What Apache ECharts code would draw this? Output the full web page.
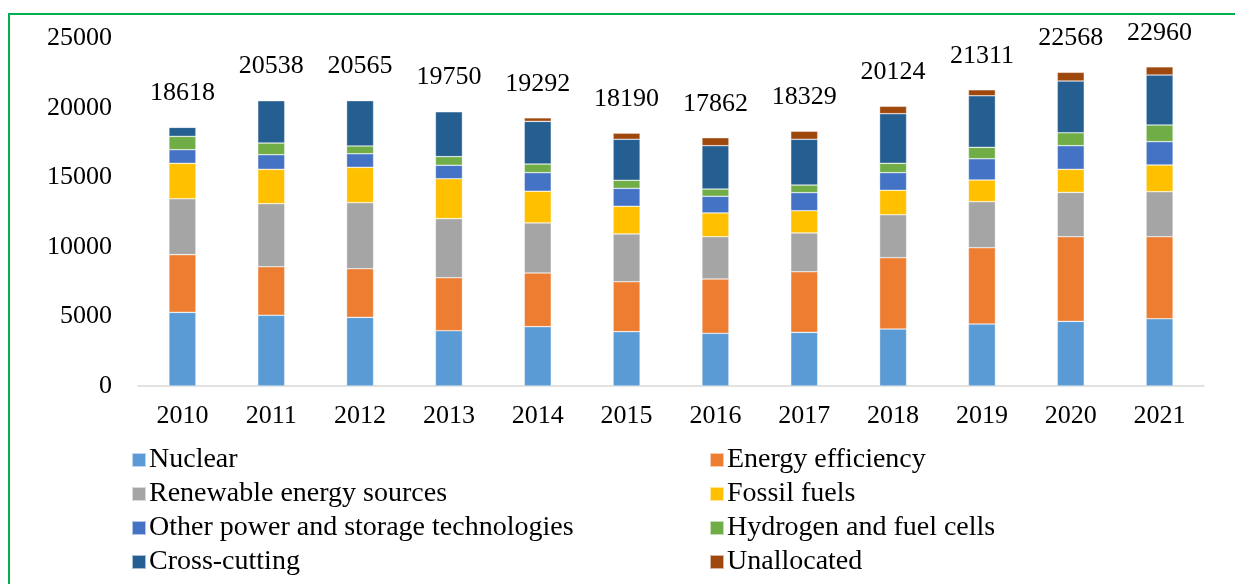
<!DOCTYPE html>
<html>
<head>
<meta charset="utf-8">
<style>
  html, body { margin: 0; padding: 0; background: #fff; }
  #chart { width: 1235px; height: 584px; }
</style>
<script src="https://cdn.jsdelivr.net/npm/echarts@6/dist/echarts.min.js"></script>
</head>
<body>
<div id="chart"></div>
<script>
const years = ['2010', '2011', '2012', '2013', '2014', '2015', '2016', '2017', '2018', '2019', '2020', '2021']

const nuclear = [5300, 5090, 4940, 3980, 4270, 3910, 3790, 3860, 4100, 4460, 4650, 4840]
const efficiency = [4150, 3490, 3500, 3810, 3860, 3590, 3910, 4360, 5130, 5490, 6090, 5900]
const renewables = [4020, 4540, 4750, 4250, 3600, 3440, 3040, 2790, 3090, 3310, 3190, 3240]
const fossil = [2550, 2470, 2540, 2870, 2280, 1990, 1710, 1600, 1760, 1560, 1660, 1920]
const otherPower = [980, 1050, 980, 970, 1340, 1290, 1200, 1300, 1270, 1530, 1700, 1680]
const hydrogen = [960, 840, 560, 620, 620, 580, 520, 550, 670, 820, 930, 1200]
const crossCutting = [650, 3050, 3260, 3230, 3070, 2950, 3120, 3290, 3570, 3710, 3720, 3590]
const unallocated = [8, 8, 35, 20, 252, 440, 572, 579, 534, 431, 628, 590]

const totals = [18618, 20538, 20565, 19750, 19292, 18190, 17862, 18329, 20124, 21311, 22568, 22960]

const seriesList = [
  { name: 'Nuclear', data: nuclear, color: '#5b9bd5' },
  { name: 'Energy efficiency', data: efficiency, color: '#ed7d31' },
  { name: 'Renewable energy sources', data: renewables, color: '#a5a5a5' },
  { name: 'Fossil fuels', data: fossil, color: '#ffc000' },
  { name: 'Other power and storage technologies', data: otherPower, color: '#4472c4' },
  { name: 'Hydrogen and fuel cells', data: hydrogen, color: '#70ad47' },
  { name: 'Cross-cutting', data: crossCutting, color: '#255e91' },
  { name: 'Unallocated', data: unallocated, color: '#9e480e' },
]

const font = '"Liberation Serif", "Times New Roman", serif'

var myChart = echarts.init(document.getElementById('chart'))

const legendBase = {
  orient: 'vertical',
  top: 440,
  itemWidth: 14,
  itemHeight: 14,
  itemGap: 4,
  icon: 'rect',
  textStyle: { fontFamily: font, fontSize: 28, color: '#000', lineHeight: 30, padding: [0, 0, 0, -2] },
}

var option = {
  animation: false,
  graphic: [
    {
      type: 'rect',
      shape: { x: 9, y: 14, width: 1400, height: 700 },
      style: { fill: 'none', stroke: '#00b050', lineWidth: 2 },
    },
  ],
  grid: { left: 138, right: 31, top: 38.5, bottom: 198 },
  legend: [
    Object.assign({}, legendBase, {
      left: 126,
      data: ['Nuclear', 'Renewable energy sources', 'Other power and storage technologies', 'Cross-cutting'],
    }),
    Object.assign({}, legendBase, {
      left: 704,
      data: ['Energy efficiency', 'Fossil fuels', 'Hydrogen and fuel cells', 'Unallocated'],
    }),
  ],
  xAxis: {
    type: 'category',
    data: years,
    axisLine: { lineStyle: { color: '#d9d9d9', width: 1.5 } },
    axisTick: { show: false },
    axisLabel: { fontFamily: font, fontSize: 26, color: '#000', margin: 17 },
  },
  yAxis: {
    type: 'value',
    min: 0,
    max: 25000,
    interval: 5000,
    splitLine: { show: false },
    axisLine: { show: false },
    axisTick: { show: false },
    axisLabel: {
      fontFamily: font,
      fontSize: 26,
      color: '#000',
      margin: 26,
      formatter: (v) => String(v),
    },
  },
  series: seriesList.map((s, i) => {
    return {
      name: s.name,
      type: 'bar',
      stack: 'total',
      barWidth: 27,
      data: s.data,
      itemStyle: { color: s.color, borderColor: 'rgba(255,255,255,0.6)', borderWidth: 0.6 },
      label: i === seriesList.length - 1
        ? {
            show: true,
            position: 'top',
            distance: 21,
            fontFamily: font,
            fontSize: 26,
            color: '#000',
            formatter: (p) => totals[p.dataIndex],
          }
        : { show: false },
    }
  }),
}

myChart.setOption(option)
</script>
</body>
</html>
